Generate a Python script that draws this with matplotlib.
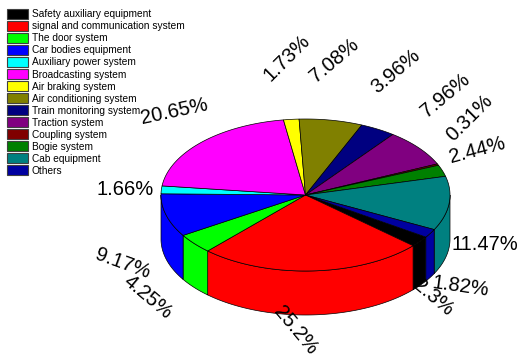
import numpy as np
import matplotlib.pyplot as plt
from matplotlib.patches import Polygon, Patch

plt.rcParams['font.family'] = ['Liberation Sans', 'DejaVu Sans']

# share of failures per subsystem (%)
systems = ['Safety auxiliary equipment', 'signal and communication system',
           'The door system', 'Car bodies equipment', 'Auxiliary power system',
           'Broadcasting system', 'Air braking system', 'Air conditioning system',
           'Train monitoring system', 'Traction system', 'Coupling system',
           'Bogie system', 'Cab equipment', 'Others']
shares = [2.3, 25.2, 4.25, 9.17, 1.66, 20.65, 1.73, 7.08, 3.96, 7.96, 0.31,
          2.44, 11.47, 1.82]
colors = ['#000000', '#FF0000', '#00FF00', '#0000FF', '#00FFFF', '#FF00FF',
          '#FFFF00', '#808000', '#000080', '#800080', '#800000', '#008000',
          '#008080', '#0000A0']

# label styling: rotation and small offsets so labels don't collide
label_rot = [-40, -50, -40, -20, 0, 12, 45, 40, 40, 40, 45, 15, 0, -8]
label_nudge = [(-14, 1), (-19, -3), (-20, -2), (-10, -1), (-2, 4), (-2, 12),
               (-1, -1), (-3, 0), (0, -5), (0, -15), (0, -22), (2, -1),
               (1, -5), (0, 0)]

# pie geometry in pixels
cx, cy = 305.5, 195.0
rx, ry = 144.5, 76.0
depth = 44.0
start = -33.6

fig = plt.figure(figsize=(5.19, 3.59), dpi=100)
ax = fig.add_axes([0, 0, 1, 1])
ax.set_xlim(0, 519)
ax.set_ylim(359, 0)
ax.axis('off')


def arc(a0, a1, n=80):
    t = np.radians(np.linspace(a0, a1, n))
    return cx + rx * np.cos(t), cy - ry * np.sin(t)


sweep = np.array(shares) / sum(shares) * 360.0
edges = start - np.concatenate([[0.0], np.cumsum(sweep)])

# front side walls (only the lower half of the rim is visible)
for i in range(len(shares)):
    a0, a1 = edges[i], edges[i + 1]
    for top, bot in [(0, -180), (-360, -540)]:
        hi, lo = min(a0, top), max(a1, bot)
        if hi <= lo:
            continue
        xs, ys = arc(hi, lo)
        pts = np.column_stack([np.concatenate([xs, xs[::-1]]),
                               np.concatenate([ys, ys[::-1] + depth])])
        ax.add_patch(Polygon(pts, closed=True, facecolor=colors[i],
                             edgecolor='black', linewidth=0.5))

# top face
for i in range(len(shares)):
    xs, ys = arc(edges[i], edges[i + 1])
    pts = np.column_stack([np.concatenate([[cx], xs]),
                           np.concatenate([[cy], ys])])
    ax.add_patch(Polygon(pts, closed=True, facecolor=colors[i],
                         edgecolor='black', linewidth=0.5))

# percentage labels
for i, v in enumerate(shares):
    mid = np.radians((edges[i] + edges[i + 1]) / 2)
    x = cx + 1.24 * rx * np.cos(mid)
    if np.sin(mid) < 0:
        y = cy + depth - 1.24 * ry * np.sin(mid)
    else:
        y = cy - 1.8 * ry * np.sin(mid)
    dx, dy = label_nudge[i]
    ax.text(x + dx, y + dy, f'{v:g}%', fontsize=14.5, ha='center', va='center',
            rotation=label_rot[i], rotation_mode='anchor')

handles = [Patch(facecolor=c, edgecolor='#404040', linewidth=0.8) for c in colors]
fig.legend(handles, systems, loc='upper left',
           bbox_to_anchor=(7 / 519, 1 - 9 / 359), frameon=False, fontsize=7.3,
           handlelength=2.1, handleheight=1.1, labelspacing=0.17,
           handletextpad=0.35, borderpad=0, borderaxespad=0)

fig.savefig('out.png', dpi=100)
